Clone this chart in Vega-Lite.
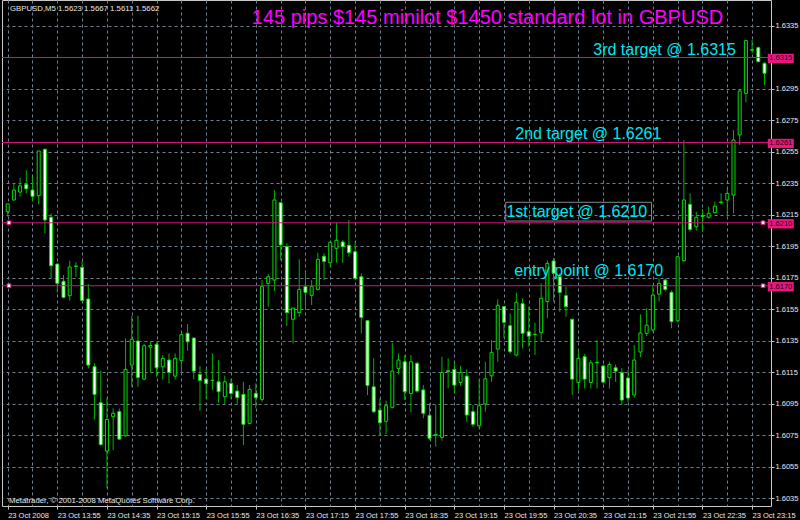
{
  "$schema": "https://vega.github.io/schema/vega-lite/v6.json",
  "width": 769,
  "height": 506,
  "autosize": {"type": "none"},
  "padding": {"left": 2, "top": 0, "right": 29, "bottom": 14},
  "background": "#000000",
  "config": {"view": {"stroke": "#c8c8c8", "strokeWidth": 1, "fill": "#000000"}},
  "datasets": {
    "candles": [
      {"t":"2008-10-23T13:15","o":1.62170,"h":1.62220,"l":1.62140,"c":1.62220},
      {"t":"2008-10-23T13:20","o":1.62245,"h":1.62350,"l":1.62240,"c":1.62308},
      {"t":"2008-10-23T13:25","o":1.62295,"h":1.62386,"l":1.62266,"c":1.62335},
      {"t":"2008-10-23T13:30","o":1.62344,"h":1.62435,"l":1.62287,"c":1.62316},
      {"t":"2008-10-23T13:35","o":1.62308,"h":1.62393,"l":1.62238,"c":1.62268},
      {"t":"2008-10-23T13:40","o":1.62272,"h":1.62556,"l":1.62217,"c":1.62556},
      {"t":"2008-10-23T13:45","o":1.62567,"h":1.62570,"l":1.62033,"c":1.62118},
      {"t":"2008-10-23T13:50","o":1.62135,"h":1.62160,"l":1.61747,"c":1.61827},
      {"t":"2008-10-23T13:55","o":1.61838,"h":1.61840,"l":1.61656,"c":1.61715},
      {"t":"2008-10-23T14:00","o":1.61728,"h":1.61768,"l":1.61620,"c":1.61626},
      {"t":"2008-10-23T14:05","o":1.61637,"h":1.61859,"l":1.61605,"c":1.61819},
      {"t":"2008-10-23T14:10","o":1.61825,"h":1.61850,"l":1.61757,"c":1.61823},
      {"t":"2008-10-23T14:15","o":1.61817,"h":1.61857,"l":1.61600,"c":1.61607},
      {"t":"2008-10-23T14:20","o":1.61616,"h":1.61711,"l":1.61175,"c":1.61196},
      {"t":"2008-10-23T14:25","o":1.61186,"h":1.61207,"l":1.60851,"c":1.61010},
      {"t":"2008-10-23T14:30","o":1.60957,"h":1.61160,"l":1.60690,"c":1.60690},
      {"t":"2008-10-23T14:35","o":1.60650,"h":1.60989,"l":1.60413,"c":1.60851},
      {"t":"2008-10-23T14:40","o":1.60868,"h":1.60921,"l":1.60656,"c":1.60890},
      {"t":"2008-10-23T14:45","o":1.60900,"h":1.60920,"l":1.60720,"c":1.60726},
      {"t":"2008-10-23T14:50","o":1.60747,"h":1.61366,"l":1.60740,"c":1.61169},
      {"t":"2008-10-23T14:55","o":1.61196,"h":1.61510,"l":1.61058,"c":1.61360},
      {"t":"2008-10-23T15:00","o":1.61349,"h":1.61510,"l":1.61058,"c":1.61118},
      {"t":"2008-10-23T15:05","o":1.61107,"h":1.61330,"l":1.61100,"c":1.61319},
      {"t":"2008-10-23T15:10","o":1.61310,"h":1.61349,"l":1.61148,"c":1.61320},
      {"t":"2008-10-23T15:15","o":1.61328,"h":1.61340,"l":1.61122,"c":1.61179},
      {"t":"2008-10-23T15:20","o":1.61185,"h":1.61260,"l":1.61105,"c":1.61239},
      {"t":"2008-10-23T15:25","o":1.61228,"h":1.61270,"l":1.61080,"c":1.61150},
      {"t":"2008-10-23T15:30","o":1.61126,"h":1.61270,"l":1.61105,"c":1.61239},
      {"t":"2008-10-23T15:35","o":1.61224,"h":1.61400,"l":1.61137,"c":1.61389},
      {"t":"2008-10-23T15:40","o":1.61398,"h":1.61457,"l":1.61287,"c":1.61344},
      {"t":"2008-10-23T15:45","o":1.61368,"h":1.61370,"l":1.61105,"c":1.61158},
      {"t":"2008-10-23T15:50","o":1.61137,"h":1.61190,"l":1.60906,"c":1.61099},
      {"t":"2008-10-23T15:55","o":1.61107,"h":1.61175,"l":1.60980,"c":1.61078},
      {"t":"2008-10-23T16:00","o":1.61100,"h":1.61270,"l":1.61038,"c":1.61098},
      {"t":"2008-10-23T16:05","o":1.61090,"h":1.61228,"l":1.60957,"c":1.61027},
      {"t":"2008-10-23T16:10","o":1.60995,"h":1.61128,"l":1.60949,"c":1.61090},
      {"t":"2008-10-23T16:15","o":1.61080,"h":1.61110,"l":1.60980,"c":1.61016},
      {"t":"2008-10-23T16:20","o":1.61031,"h":1.61069,"l":1.60949,"c":1.60989},
      {"t":"2008-10-23T16:25","o":1.61010,"h":1.61090,"l":1.60688,"c":1.60820},
      {"t":"2008-10-23T16:30","o":1.60826,"h":1.61070,"l":1.60820,"c":1.61042},
      {"t":"2008-10-23T16:35","o":1.61016,"h":1.61080,"l":1.60921,"c":1.60989},
      {"t":"2008-10-23T16:40","o":1.60978,"h":1.61736,"l":1.60963,"c":1.61694},
      {"t":"2008-10-23T16:45","o":1.61715,"h":1.61774,"l":1.61567,"c":1.61757},
      {"t":"2008-10-23T16:50","o":1.61736,"h":1.62308,"l":1.61666,"c":1.62245},
      {"t":"2008-10-23T16:55","o":1.62227,"h":1.62230,"l":1.61863,"c":1.61959},
      {"t":"2008-10-23T17:00","o":1.61948,"h":1.61970,"l":1.61444,"c":1.61529},
      {"t":"2008-10-23T17:05","o":1.61487,"h":1.61560,"l":1.61334,"c":1.61558},
      {"t":"2008-10-23T17:10","o":1.61529,"h":1.61868,"l":1.61503,"c":1.61677},
      {"t":"2008-10-23T17:15","o":1.61694,"h":1.61800,"l":1.61546,"c":1.61658},
      {"t":"2008-10-23T17:20","o":1.61639,"h":1.61736,"l":1.61578,"c":1.61694},
      {"t":"2008-10-23T17:25","o":1.61677,"h":1.61910,"l":1.61670,"c":1.61868},
      {"t":"2008-10-23T17:30","o":1.61887,"h":1.61906,"l":1.61736,"c":1.61855},
      {"t":"2008-10-23T17:35","o":1.61846,"h":1.61980,"l":1.61817,"c":1.61976},
      {"t":"2008-10-23T17:40","o":1.61938,"h":1.62100,"l":1.61846,"c":1.61989},
      {"t":"2008-10-23T17:45","o":1.61978,"h":1.61990,"l":1.61846,"c":1.61948},
      {"t":"2008-10-23T17:50","o":1.61957,"h":1.62118,"l":1.61884,"c":1.61910},
      {"t":"2008-10-23T17:55","o":1.61916,"h":1.61980,"l":1.61740,"c":1.61747},
      {"t":"2008-10-23T18:00","o":1.61757,"h":1.61779,"l":1.61398,"c":1.61499},
      {"t":"2008-10-23T18:05","o":1.61478,"h":1.61480,"l":1.61006,"c":1.61067},
      {"t":"2008-10-23T18:10","o":1.61058,"h":1.61239,"l":1.60890,"c":1.60900},
      {"t":"2008-10-23T18:15","o":1.60910,"h":1.60985,"l":1.60745,"c":1.60830},
      {"t":"2008-10-23T18:20","o":1.60839,"h":1.60970,"l":1.60758,"c":1.60938},
      {"t":"2008-10-23T18:25","o":1.60928,"h":1.61338,"l":1.60920,"c":1.61158},
      {"t":"2008-10-23T18:30","o":1.61175,"h":1.61270,"l":1.61137,"c":1.61228},
      {"t":"2008-10-23T18:35","o":1.61217,"h":1.61260,"l":1.60974,"c":1.61027},
      {"t":"2008-10-23T18:40","o":1.61016,"h":1.61260,"l":1.60896,"c":1.61217},
      {"t":"2008-10-23T18:45","o":1.61207,"h":1.61217,"l":1.61020,"c":1.61031},
      {"t":"2008-10-23T18:50","o":1.61038,"h":1.61069,"l":1.60858,"c":1.60890},
      {"t":"2008-10-23T18:55","o":1.60877,"h":1.60953,"l":1.60720,"c":1.60731},
      {"t":"2008-10-23T19:00","o":1.60750,"h":1.60942,"l":1.60677,"c":1.60755},
      {"t":"2008-10-23T19:05","o":1.60737,"h":1.61249,"l":1.60716,"c":1.61148},
      {"t":"2008-10-23T19:10","o":1.61160,"h":1.61239,"l":1.61048,"c":1.61155},
      {"t":"2008-10-23T19:15","o":1.61169,"h":1.61211,"l":1.61016,"c":1.61069},
      {"t":"2008-10-23T19:20","o":1.61086,"h":1.61190,"l":1.61063,"c":1.61150},
      {"t":"2008-10-23T19:25","o":1.61126,"h":1.61169,"l":1.60836,"c":1.60879},
      {"t":"2008-10-23T19:30","o":1.60900,"h":1.60942,"l":1.60804,"c":1.60820},
      {"t":"2008-10-23T19:35","o":1.60810,"h":1.61105,"l":1.60794,"c":1.60938},
      {"t":"2008-10-23T19:40","o":1.60949,"h":1.61217,"l":1.60900,"c":1.61109},
      {"t":"2008-10-23T19:45","o":1.61128,"h":1.61355,"l":1.61090,"c":1.61277},
      {"t":"2008-10-23T19:50","o":1.61298,"h":1.61614,"l":1.61217,"c":1.61576},
      {"t":"2008-10-23T19:55","o":1.61567,"h":1.61570,"l":1.61366,"c":1.61468},
      {"t":"2008-10-23T20:00","o":1.61446,"h":1.61525,"l":1.61270,"c":1.61281},
      {"t":"2008-10-23T20:05","o":1.61260,"h":1.61656,"l":1.61250,"c":1.61595},
      {"t":"2008-10-23T20:10","o":1.61586,"h":1.61620,"l":1.61302,"c":1.61398},
      {"t":"2008-10-23T20:15","o":1.61408,"h":1.61567,"l":1.61313,"c":1.61380},
      {"t":"2008-10-23T20:20","o":1.61390,"h":1.61465,"l":1.61260,"c":1.61392},
      {"t":"2008-10-23T20:25","o":1.61402,"h":1.61715,"l":1.61350,"c":1.61620},
      {"t":"2008-10-23T20:30","o":1.61600,"h":1.61860,"l":1.61493,"c":1.61842},
      {"t":"2008-10-23T20:35","o":1.61857,"h":1.61876,"l":1.61600,"c":1.61779},
      {"t":"2008-10-23T20:40","o":1.61757,"h":1.61779,"l":1.61535,"c":1.61658},
      {"t":"2008-10-23T20:45","o":1.61637,"h":1.61694,"l":1.61503,"c":1.61567},
      {"t":"2008-10-23T20:50","o":1.61487,"h":1.61490,"l":1.61006,"c":1.61107},
      {"t":"2008-10-23T20:55","o":1.61086,"h":1.61298,"l":1.61038,"c":1.61239},
      {"t":"2008-10-23T21:00","o":1.61249,"h":1.61266,"l":1.61048,"c":1.61107},
      {"t":"2008-10-23T21:05","o":1.61086,"h":1.61228,"l":1.61048,"c":1.61211},
      {"t":"2008-10-23T21:10","o":1.61210,"h":1.61355,"l":1.61048,"c":1.61214},
      {"t":"2008-10-23T21:15","o":1.61190,"h":1.61200,"l":1.61078,"c":1.61088},
      {"t":"2008-10-23T21:20","o":1.61116,"h":1.61217,"l":1.61048,"c":1.61200},
      {"t":"2008-10-23T21:25","o":1.61179,"h":1.61200,"l":1.61090,"c":1.61158},
      {"t":"2008-10-23T21:30","o":1.61148,"h":1.61177,"l":1.60942,"c":1.60974},
      {"t":"2008-10-23T21:35","o":1.61114,"h":1.61165,"l":1.60961,"c":1.60987},
      {"t":"2008-10-23T21:40","o":1.61006,"h":1.61323,"l":1.60987,"c":1.61228},
      {"t":"2008-10-23T21:45","o":1.61279,"h":1.61518,"l":1.61247,"c":1.61400},
      {"t":"2008-10-23T21:50","o":1.61398,"h":1.61557,"l":1.61380,"c":1.61450},
      {"t":"2008-10-23T21:55","o":1.61419,"h":1.61705,"l":1.61410,"c":1.61641},
      {"t":"2008-10-23T22:00","o":1.61647,"h":1.61747,"l":1.61599,"c":1.61715},
      {"t":"2008-10-23T22:05","o":1.61736,"h":1.61747,"l":1.61662,"c":1.61677},
      {"t":"2008-10-23T22:10","o":1.61658,"h":1.61670,"l":1.61430,"c":1.61472},
      {"t":"2008-10-23T22:15","o":1.61478,"h":1.61890,"l":1.61470,"c":1.61884},
      {"t":"2008-10-23T22:20","o":1.61859,"h":1.62626,"l":1.61850,"c":1.62245},
      {"t":"2008-10-23T22:25","o":1.62217,"h":1.62287,"l":1.62043,"c":1.62058},
      {"t":"2008-10-23T22:30","o":1.62075,"h":1.62170,"l":1.62050,"c":1.62135},
      {"t":"2008-10-23T22:35","o":1.62140,"h":1.62186,"l":1.62043,"c":1.62146},
      {"t":"2008-10-23T22:40","o":1.62135,"h":1.62202,"l":1.62128,"c":1.62160},
      {"t":"2008-10-23T22:45","o":1.62164,"h":1.62234,"l":1.62160,"c":1.62206},
      {"t":"2008-10-23T22:50","o":1.62228,"h":1.62287,"l":1.62217,"c":1.62232},
      {"t":"2008-10-23T22:55","o":1.62245,"h":1.62319,"l":1.62149,"c":1.62287},
      {"t":"2008-10-23T23:00","o":1.62276,"h":1.62689,"l":1.62160,"c":1.62626},
      {"t":"2008-10-23T23:05","o":1.62658,"h":1.62943,"l":1.62594,"c":1.62937},
      {"t":"2008-10-23T23:10","o":1.62922,"h":1.63261,"l":1.62865,"c":1.63257},
      {"t":"2008-10-23T23:15","o":1.63196,"h":1.63261,"l":1.63177,"c":1.63200},
      {"t":"2008-10-23T23:20","o":1.63212,"h":1.63220,"l":1.63120,"c":1.63123},
      {"t":"2008-10-23T23:25","o":1.63113,"h":1.63120,"l":1.62975,"c":1.63050}
    ],
    "levels": [
      {"p": 1.6315, "label": "1.6315"},
      {"p": 1.6261, "label": "1.6261"},
      {"p": 1.6210, "label": "1.6210"},
      {"p": 1.6170, "label": "1.6170"}
    ]
  },
  "layer": [
    {
      "data": {"name": "candles"},
      "mark": {"type": "rule", "color": "#00b400", "strokeWidth": 1, "clip": true},
      "encoding": {
        "x": {
          "field": "t", "type": "temporal", "title": null,
          "scale": {"domain": [{"year":2008,"month":10,"date":23,"hours":13,"minutes":14,"seconds":27},{"year":2008,"month":10,"date":23,"hours":23,"minutes":26,"seconds":12}], "nice": false},
          "axis": {
            "title": null,
            "tickCount": 1000,
            "values": [
              {"year":2008,"month":10,"date":23,"hours":13,"minutes":15},
              {"year":2008,"month":10,"date":23,"hours":13,"minutes":35},
              {"year":2008,"month":10,"date":23,"hours":13,"minutes":55},
              {"year":2008,"month":10,"date":23,"hours":14,"minutes":15},
              {"year":2008,"month":10,"date":23,"hours":14,"minutes":35},
              {"year":2008,"month":10,"date":23,"hours":14,"minutes":55},
              {"year":2008,"month":10,"date":23,"hours":15,"minutes":15},
              {"year":2008,"month":10,"date":23,"hours":15,"minutes":35},
              {"year":2008,"month":10,"date":23,"hours":15,"minutes":55},
              {"year":2008,"month":10,"date":23,"hours":16,"minutes":15},
              {"year":2008,"month":10,"date":23,"hours":16,"minutes":35},
              {"year":2008,"month":10,"date":23,"hours":16,"minutes":55},
              {"year":2008,"month":10,"date":23,"hours":17,"minutes":15},
              {"year":2008,"month":10,"date":23,"hours":17,"minutes":35},
              {"year":2008,"month":10,"date":23,"hours":17,"minutes":55},
              {"year":2008,"month":10,"date":23,"hours":18,"minutes":15},
              {"year":2008,"month":10,"date":23,"hours":18,"minutes":35},
              {"year":2008,"month":10,"date":23,"hours":18,"minutes":55},
              {"year":2008,"month":10,"date":23,"hours":19,"minutes":15},
              {"year":2008,"month":10,"date":23,"hours":19,"minutes":35},
              {"year":2008,"month":10,"date":23,"hours":19,"minutes":55},
              {"year":2008,"month":10,"date":23,"hours":20,"minutes":15},
              {"year":2008,"month":10,"date":23,"hours":20,"minutes":35},
              {"year":2008,"month":10,"date":23,"hours":20,"minutes":55},
              {"year":2008,"month":10,"date":23,"hours":21,"minutes":15},
              {"year":2008,"month":10,"date":23,"hours":21,"minutes":35},
              {"year":2008,"month":10,"date":23,"hours":21,"minutes":55},
              {"year":2008,"month":10,"date":23,"hours":22,"minutes":15},
              {"year":2008,"month":10,"date":23,"hours":22,"minutes":35},
              {"year":2008,"month":10,"date":23,"hours":22,"minutes":55},
              {"year":2008,"month":10,"date":23,"hours":23,"minutes":15}
            ],
            "labelExpr": "round((datum.value - datetime(2008,9,23,13,15))/60000) == 0 ? '23 Oct 2008' : (round((datum.value - datetime(2008,9,23,13,15))/60000) % 40 == 0 ? timeFormat(datum.value, '%d %b %H:%M') : '')",
            "grid": true,
            "gridColor": "#6f7f8f",
            "gridDash": [3, 3],
            "gridWidth": 1,
            "domain": false,
            "ticks": true,
            "tickSize": 3,
            "tickColor": {"condition": {"test": "round((datum.value - datetime(2008,9,23,13,15))/60000) % 40 == 0", "value": "#c8c8c8"}, "value": "transparent"},
            "labelAlign": "left",
            "labelBaseline": "top",
            "labelPadding": 2,
            "labelFont": "Liberation Sans",
            "labelFontSize": 7.5,
            "labelColor": "#e8e8e8",
            "labelOverlap": false,
            "labelFlush": false,
            "labelBound": false
          }
        },
        "y": {
          "field": "l", "type": "quantitative", "title": null,
          "scale": {"domain": [1.60301, 1.63515], "zero": false, "nice": false},
          "axis": {
            "title": null,
            "orient": "right",
            "tickCount": 1000,
            "values": [1.6035, 1.6055, 1.6075, 1.6095, 1.6115, 1.6135, 1.6155, 1.6175, 1.6195, 1.6215, 1.6235, 1.6255, 1.6275, 1.6295, 1.6315, 1.6335],
            "format": ".4f",
            "labelExpr": "format(datum.value, '.4f') == '1.6315' ? '' : format(datum.value, '.4f')",
            "grid": true,
            "gridColor": "#6f7f8f",
            "gridDash": [3, 3],
            "gridWidth": 1,
            "domain": false,
            "tickSize": 3,
            "tickColor": "#c8c8c8",
            "labelPadding": 1,
            "labelAlign": "left",
            "labelBaseline": "middle",
            "labelFont": "Liberation Sans",
            "labelFontSize": 7.5,
            "labelColor": "#e8e8e8",
            "labelOverlap": false,
            "labelFlush": false,
            "labelBound": false
          }
        },
        "y2": {"field": "h"}
      }
    },
    {
      "data": {"name": "candles"},
      "mark": {"type": "bar", "size": 3, "stroke": "#00e000", "strokeWidth": 1, "clip": true},
      "encoding": {
        "x": {"field": "t", "type": "temporal", "title": null},
        "y": {"field": "o", "type": "quantitative", "title": null},
        "y2": {"field": "c"},
        "fill": {"condition": {"test": "datum.c < datum.o", "value": "#ffffff"}, "value": "#000000"}
      }
    },
    {
      "data": {"name": "levels"},
      "mark": {"type": "rule", "color": "#d0157a", "strokeWidth": 1},
      "encoding": {
        "y": {"field": "p", "type": "quantitative", "title": null}
      }
    },
    {
      "data": {"values": [
        {"t": "2008-10-23T13:16:02", "p": 1.6210},
        {"t": "2008-10-23T23:23:48", "p": 1.6210},
        {"t": "2008-10-23T13:16:02", "p": 1.6170},
        {"t": "2008-10-23T23:23:48", "p": 1.6170}
      ]},
      "mark": {"type": "point", "shape": "square", "size": 14, "filled": true, "fill": "#ffffff", "stroke": "#d0157a", "strokeWidth": 1, "opacity": 1},
      "encoding": {
        "x": {"field": "t", "type": "temporal", "title": null},
        "y": {"field": "p", "type": "quantitative", "title": null}
      }
    },
    {
      "data": {"name": "levels"},
      "mark": {"type": "point", "shape": "M-1,-0.36L1,-0.36L1,0.36L-1,0.36Z", "size": 676, "filled": true, "fill": "#e8187e", "stroke": null, "opacity": 1, "yOffset": 1, "clip": false},
      "encoding": {
        "x": {"datum": {"year":2008,"month":10,"date":23,"hours":23,"minutes":38,"seconds":7}, "type": "temporal", "title": null},
        "y": {"field": "p", "type": "quantitative", "title": null}
      }
    },
    {
      "data": {"name": "levels"},
      "mark": {"type": "text", "align": "center", "baseline": "middle", "font": "Liberation Sans", "fontSize": 7.5, "color": "#1a0010", "dy": 1, "clip": false},
      "encoding": {
        "x": {"datum": {"year":2008,"month":10,"date":23,"hours":23,"minutes":38,"seconds":7}, "type": "temporal", "title": null},
        "y": {"field": "p", "type": "quantitative", "title": null},
        "text": {"field": "label"}
      }
    },
    {
      "data": {"values": [{"t1": "2008-10-23T19:56:25", "t2": "2008-10-23T21:53:55", "p1": 1.62230, "p2": 1.62111}]},
      "mark": {"type": "rect", "fill": "transparent", "stroke": "#7d8b90", "strokeWidth": 1},
      "encoding": {
        "x": {"field": "t1", "type": "temporal", "title": null},
        "x2": {"field": "t2"},
        "y": {"field": "p1", "type": "quantitative", "title": null},
        "y2": {"field": "p2"}
      }
    },
    {
      "data": {"values": [
        {"t": "2008-10-23T21:06:59", "p": 1.63166, "label": "3rd target @ 1.6315"},
        {"t": "2008-10-23T20:04:08", "p": 1.62632, "label": "2nd target @ 1.6261"},
        {"t": "2008-10-23T19:56:58", "p": 1.62138, "label": "1st target @ 1.6210"},
        {"t": "2008-10-23T20:03:20", "p": 1.61762, "label": "entry point @ 1.6170"}
      ]},
      "mark": {"type": "text", "align": "left", "baseline": "alphabetic", "font": "Liberation Sans", "fontSize": 16, "color": "#00e5ee"},
      "encoding": {
        "x": {"field": "t", "type": "temporal", "title": null},
        "y": {"field": "p", "type": "quantitative", "title": null},
        "text": {"field": "label"}
      }
    },
    {
      "data": {"values": [{"t": "2008-10-23T16:31:44", "p": 1.63363, "label": "145 pips $145 minilot $1450 standard lot in GBPUSD"}]},
      "mark": {"type": "text", "align": "left", "baseline": "alphabetic", "font": "Liberation Sans", "fontSize": 20, "color": "#ff00ff"},
      "encoding": {
        "x": {"field": "t", "type": "temporal", "title": null},
        "y": {"field": "p", "type": "quantitative", "title": null},
        "text": {"field": "label"}
      }
    },
    {
      "data": {"values": [
        {"t": "2008-10-23T13:16:50", "p": 1.63445, "label": "GBPUSD,M5   1.5623 1.5667 1.5611 1.5662"},
        {"t": "2008-10-23T13:16:02", "p": 1.60320, "label": "Metatrader, © 2001-2008 MetaQuotes Software Corp."}
      ]},
      "mark": {"type": "text", "align": "left", "baseline": "alphabetic", "font": "Liberation Sans", "fontSize": 7.8, "color": "#e8e8e8"},
      "encoding": {
        "x": {"field": "t", "type": "temporal", "title": null},
        "y": {"field": "p", "type": "quantitative", "title": null},
        "text": {"field": "label"}
      }
    }
  ]
}
